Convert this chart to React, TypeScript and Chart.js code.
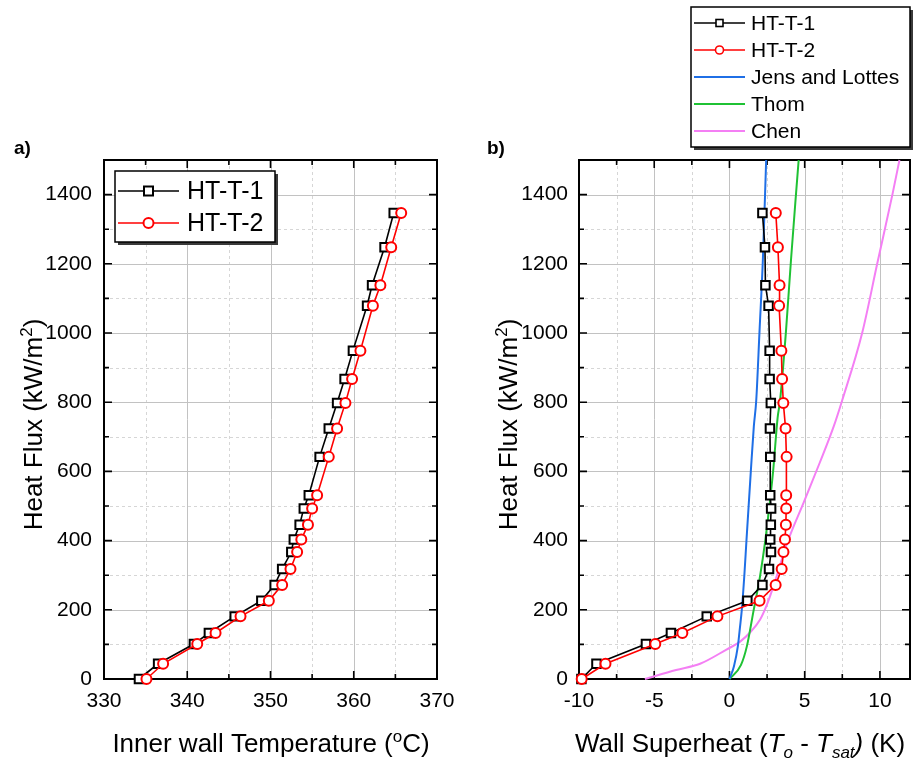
import React, { useEffect, useRef } from "react";
import { Chart, registerables } from "chart.js";

Chart.register(...registerables);

const FONT = '"Liberation Sans", Arial, Helvetica, sans-serif';

// Heat-flux levels shared by both test series (kW/m2)
const HEAT_FLUX = [0, 44, 101, 133, 181, 226, 272, 318, 367, 403, 446, 493, 531, 642, 724, 798, 867, 949, 1079, 1138, 1248, 1347];

// Panel a) inner wall temperature (°C)
const INNER_WALL_T_HT1 = [334.2, 336.5, 340.8, 342.6, 345.7, 348.9, 350.5, 351.4, 352.5, 352.8, 353.5, 354.0, 354.6, 355.9, 357.0, 358.0, 358.9, 359.9, 361.6, 362.2, 363.7, 364.8];
const INNER_WALL_T_HT2 = [335.1, 337.1, 341.2, 343.4, 346.4, 349.8, 351.4, 352.4, 353.2, 353.7, 354.5, 355.0, 355.6, 357.0, 358.0, 359.0, 359.8, 360.8, 362.3, 363.2, 364.5, 365.7];

// Panel b) wall superheat (K)
const SUPERHEAT_HT1 = [-9.84, -8.84, -5.55, -3.89, -1.51, 1.19, 2.19, 2.63, 2.76, 2.71, 2.75, 2.77, 2.71, 2.71, 2.69, 2.75, 2.67, 2.67, 2.6, 2.39, 2.36, 2.19];
const SUPERHEAT_HT2 = [-9.82, -8.24, -4.93, -3.13, -0.8, 2.0, 3.07, 3.47, 3.59, 3.69, 3.75, 3.77, 3.77, 3.8, 3.73, 3.58, 3.5, 3.45, 3.3, 3.33, 3.22, 3.08];

// Correlations (superheat K, heat flux kW/m2)
const JENS_LOTTES_DT = [0, 0.3, 0.56, 0.7, 0.82, 0.99, 1.13, 1.42, 1.62, 1.78, 2.0, 2.22, 2.44];
const JENS_LOTTES_Q = [0, 37, 95, 150, 200, 300, 400, 600, 730, 805, 1007, 1211, 1500];
const THOM_DT = [0, 0.76, 1.16, 1.6, 2.04, 2.38, 2.66, 2.91, 3.2, 3.36, 3.76, 4.09, 4.42, 4.6];
const THOM_Q = [0, 40, 95, 197, 299, 400, 502, 604, 755, 803, 1007, 1211, 1400, 1500];
const CHEN_DT = [-5.62, -3.55, -1.95, -0.2, 0.71, 1.38, 2.04, 2.49, 3.0, 3.85, 4.93, 6.0, 6.93, 7.49, 8.82, 9.82, 10.83, 11.3];
const CHEN_Q = [0, 26, 44, 85, 108, 135, 172, 215, 278, 395, 510, 625, 730, 805, 1000, 1200, 1400, 1500];

// Axis ticks
const A_X_TICKS = [330, 340, 350, 360, 370];
const A_X_MINOR = [335, 345, 355, 365];
const B_X_TICKS = [-10, -5, 0, 5, 10];
const B_X_MINOR = [-7.5, -2.5, 2.5, 7.5];
const Y_TICKS = [0, 200, 400, 600, 800, 1000, 1200, 1400];
const Y_MINOR = [100, 300, 500, 700, 900, 1100, 1300, 1500];

type Seg = { t: string; s: number; it?: boolean; b?: boolean; dy?: number };

function drawRich(ctx: CanvasRenderingContext2D, segs: Seg[], cx: number, by: number, rot: number) {
  ctx.save();
  ctx.translate(cx, by);
  ctx.rotate(rot);
  const fontOf = (g: Seg) => `${g.it ? "italic " : ""}${g.b ? "bold " : ""}${g.s}px ${FONT}`;
  const widths = segs.map((g) => {
    ctx.font = fontOf(g);
    return ctx.measureText(g.t).width;
  });
  const total = widths.reduce((a, b) => a + b, 0);
  let x = -total / 2;
  ctx.fillStyle = "#000";
  ctx.textAlign = "left";
  ctx.textBaseline = "alphabetic";
  segs.forEach((g, i) => {
    ctx.font = fontOf(g);
    ctx.fillText(g.t, x, g.dy || 0);
    x += widths[i];
  });
  ctx.restore();
}

function framePlugin(xMinor: number[], yMinor: number[]) {
  return {
    id: "frameGrid",
    beforeDatasetsDraw(chart: any) {
      const { ctx, chartArea: a, scales } = chart;
      const xs = scales.x;
      const ys = scales.y;
      const xMajor = xs.ticks.map((t: any) => t.value);
      const yMajor = ys.ticks.map((t: any) => t.value);
      ctx.save();
      const vline = (v: number) => {
        const p = Math.round(xs.getPixelForValue(v)) + 0.5;
        ctx.beginPath();
        ctx.moveTo(p, a.top);
        ctx.lineTo(p, a.bottom);
        ctx.stroke();
      };
      const hline = (v: number) => {
        const p = Math.round(ys.getPixelForValue(v)) + 0.5;
        ctx.beginPath();
        ctx.moveTo(a.left, p);
        ctx.lineTo(a.right, p);
        ctx.stroke();
      };
      ctx.lineWidth = 1;
      ctx.strokeStyle = "#d6d6d6";
      ctx.setLineDash([3, 3]);
      xMinor.forEach(vline);
      yMinor.forEach(hline);
      ctx.setLineDash([]);
      ctx.strokeStyle = "#c2c2c2";
      xMajor.forEach(vline);
      yMajor.forEach(hline);
      // frame
      ctx.strokeStyle = "#000";
      ctx.lineWidth = 2;
      ctx.strokeRect(a.left, a.top, a.width, a.height);
      // inward ticks on all four sides
      ctx.lineWidth = 1.6;
      const xt = (v: number, len: number) => {
        const p = xs.getPixelForValue(v);
        ctx.beginPath();
        ctx.moveTo(p, a.bottom);
        ctx.lineTo(p, a.bottom - len);
        ctx.moveTo(p, a.top);
        ctx.lineTo(p, a.top + len);
        ctx.stroke();
      };
      const yt = (v: number, len: number) => {
        const p = ys.getPixelForValue(v);
        ctx.beginPath();
        ctx.moveTo(a.left, p);
        ctx.lineTo(a.left + len, p);
        ctx.moveTo(a.right, p);
        ctx.lineTo(a.right - len, p);
        ctx.stroke();
      };
      xMajor.forEach((v: number) => xt(v, 8));
      xMinor.forEach((v: number) => xt(v, 5));
      yMajor.forEach((v: number) => yt(v, 8));
      yMinor.forEach((v: number) => yt(v, 5));
      ctx.restore();
    },
  };
}

type LegendCfg = {
  x: number;
  y: number;
  w: number;
  h: number;
  rows: number[];
  lineX1: number;
  lineX2: number;
  textX: number;
  fontSize: number;
  rectHalf: number;
  circleR: number;
  markerLW: number;
};

function legendPlugin(cfg: LegendCfg) {
  return {
    id: "boxLegend",
    afterDraw(chart: any) {
      const ctx: CanvasRenderingContext2D = chart.ctx;
      const { x, y, w, h } = cfg;
      ctx.save();
      ctx.fillStyle = "#3a3a3a";
      ctx.fillRect(x + 3, y + 3, w, h);
      ctx.fillStyle = "#fff";
      ctx.fillRect(x, y, w, h);
      ctx.strokeStyle = "#000";
      ctx.lineWidth = 1.5;
      ctx.strokeRect(x, y, w, h);
      chart.data.datasets.forEach((ds: any, i: number) => {
        const ry = y + cfg.rows[i];
        ctx.strokeStyle = ds.borderColor;
        ctx.lineWidth = ds.borderWidth;
        ctx.beginPath();
        ctx.moveTo(x + cfg.lineX1, ry);
        ctx.lineTo(x + cfg.lineX2, ry);
        ctx.stroke();
        const cx = x + (cfg.lineX1 + cfg.lineX2) / 2;
        if (ds.pointRadius > 0) {
          ctx.fillStyle = "#fff";
          ctx.lineWidth = cfg.markerLW;
          ctx.strokeStyle = ds.borderColor;
          if (ds.pointStyle === "rect") {
            const m = cfg.rectHalf;
            ctx.fillRect(cx - m, ry - m, 2 * m, 2 * m);
            ctx.strokeRect(cx - m, ry - m, 2 * m, 2 * m);
          } else {
            ctx.beginPath();
            ctx.arc(cx, ry, cfg.circleR, 0, Math.PI * 2);
            ctx.fill();
            ctx.stroke();
          }
        }
        ctx.fillStyle = "#000";
        ctx.font = `${cfg.fontSize}px ${FONT}`;
        ctx.textAlign = "left";
        ctx.textBaseline = "middle";
        ctx.fillText(ds.label, x + cfg.textX, ry + 1);
      });
      ctx.restore();
    },
  };
}

function titlesPlugin(xTitle: Seg[], xTitleCx: number, yTitleBx: number, panel: string, panelX: number) {
  return {
    id: "richTitles",
    afterDraw(chart: any) {
      const ctx: CanvasRenderingContext2D = chart.ctx;
      const a = chart.chartArea;
      drawRich(ctx, xTitle, xTitleCx, 752, 0);
      drawRich(
        ctx,
        [
          { t: "Heat Flux (kW/m", s: 26 },
          { t: "2", s: 17, dy: -10 },
          { t: ")", s: 26 },
        ],
        yTitleBx,
        (a.top + a.bottom) / 2 + 5,
        -Math.PI / 2
      );
      ctx.save();
      ctx.fillStyle = "#000";
      ctx.font = `bold 19px ${FONT}`;
      ctx.textAlign = "left";
      ctx.textBaseline = "alphabetic";
      ctx.fillText(panel, panelX, 154);
      ctx.restore();
    },
  };
}

const toPts = (xs: number[], ys: number[]) => xs.map((v, i) => ({ x: v, y: ys[i] }));

function scaleOpts(min: number, max: number, ticks: number[], pad: number, fit: (s: any) => void) {
  return {
    type: "linear",
    min,
    max,
    grid: { display: false, drawTicks: false },
    border: { display: false },
    ticks: {
      color: "#000",
      font: { family: FONT, size: 21 },
      padding: pad,
      maxRotation: 0,
      autoSkip: false,
      callback: (v: any) => String(v),
    },
    afterBuildTicks: (s: any) => {
      s.ticks = ticks.map((v) => ({ value: v }));
    },
    afterFit: fit,
  };
}

function expSeries(label: string, color: string, style: string, radius: number, pts: any[], order: number) {
  return {
    label,
    data: pts,
    showLine: true,
    borderColor: color,
    backgroundColor: "#fff",
    borderWidth: 1.6,
    pointStyle: style,
    pointRadius: radius,
    pointBorderWidth: 2,
    pointBackgroundColor: "#fff",
    pointBorderColor: color,
    tension: 0,
    clip: false,
    order,
  };
}

function corrSeries(label: string, color: string, pts: any[], order: number) {
  return {
    label,
    data: pts,
    showLine: true,
    borderColor: color,
    backgroundColor: color,
    borderWidth: 2,
    pointRadius: 0,
    cubicInterpolationMode: "monotone",
    clip: false,
    order,
  };
}

const fitX = (s: any) => {
  s.height = 82;
  s.paddingLeft = 0;
  s.paddingRight = 0;
};

export default function App() {
  const refA = useRef<HTMLCanvasElement>(null);
  const refB = useRef<HTMLCanvasElement>(null);

  useEffect(() => {
    const chartA = new Chart(refA.current as HTMLCanvasElement, {
      type: "scatter",
      data: {
        datasets: [
          expSeries("HT-T-1", "#000000", "rect", 6, toPts(INNER_WALL_T_HT1, HEAT_FLUX), 1),
          expSeries("HT-T-2", "#ff0000", "circle", 5, toPts(INNER_WALL_T_HT2, HEAT_FLUX), 0),
        ] as any,
      },
      options: {
        animation: false,
        responsive: false,
        devicePixelRatio: 1,
        layout: { padding: { top: 160, right: 23, left: 0, bottom: 0 } },
        plugins: { legend: { display: false }, tooltip: { enabled: false } },
        events: [],
        scales: {
          x: scaleOpts(330, 370, A_X_TICKS, 10, fitX),
          y: scaleOpts(0, 1500, Y_TICKS, 12, (s: any) => { s.width = 104; }),
        } as any,
      },
      plugins: [
        framePlugin(A_X_MINOR, Y_MINOR),
        legendPlugin({ x: 115, y: 171, w: 160, h: 71, rows: [20, 52], lineX1: 3, lineX2: 64, textX: 72, fontSize: 25, rectHalf: 4.5, circleR: 5, markerLW: 2 }),
        titlesPlugin(
          [
            { t: "Inner wall Temperature (", s: 26 },
            { t: "o", s: 17, dy: -10 },
            { t: "C)", s: 26 },
          ],
          271,
          42,
          "a)",
          14
        ),
      ] as any,
    });

    const chartB = new Chart(refB.current as HTMLCanvasElement, {
      type: "scatter",
      data: {
        datasets: [
          expSeries("HT-T-1", "#000000", "rect", 6, toPts(SUPERHEAT_HT1, HEAT_FLUX), 1),
          expSeries("HT-T-2", "#ff0000", "circle", 5, toPts(SUPERHEAT_HT2, HEAT_FLUX), 0),
          corrSeries("Jens and Lottes", "#1f6fe6", toPts(JENS_LOTTES_DT, JENS_LOTTES_Q), 2),
          corrSeries("Thom", "#1fc234", toPts(THOM_DT, THOM_Q), 3),
          corrSeries("Chen", "#f47ff4", toPts(CHEN_DT, CHEN_Q), 4),
        ] as any,
      },
      options: {
        animation: false,
        responsive: false,
        devicePixelRatio: 1,
        layout: { padding: { top: 160, right: 9, left: 0, bottom: 0 } },
        plugins: { legend: { display: false }, tooltip: { enabled: false } },
        events: [],
        scales: {
          x: scaleOpts(-10, 12, B_X_TICKS, 10, fitX),
          y: scaleOpts(0, 1500, Y_TICKS, 11, (s: any) => { s.width = 119; }),
        } as any,
      },
      plugins: [
        framePlugin(B_X_MINOR, Y_MINOR),
        legendPlugin({ x: 231, y: 7, w: 219, h: 140, rows: [16, 43, 70, 97, 124], lineX1: 3, lineX2: 54, textX: 60, fontSize: 21, rectHalf: 3.5, circleR: 4, markerLW: 1.6 }),
        titlesPlugin(
          [
            { t: "Wall Superheat (", s: 26 },
            { t: "T", s: 26, it: true },
            { t: "o", s: 17, it: true, dy: 6 },
            { t: " - ", s: 26 },
            { t: "T", s: 26, it: true },
            { t: "sat", s: 17, it: true, dy: 6 },
            { t: ")", s: 26, it: true },
            { t: " (K)", s: 26 },
          ],
          280,
          57,
          "b)",
          27
        ),
      ] as any,
    });

    return () => {
      chartA.destroy();
      chartB.destroy();
    };
  }, []);

  return (
    <div style={{ position: "absolute", left: 0, top: 0, width: 919, height: 761, background: "#fff", overflow: "hidden" }}>
      <canvas ref={refA} width={460} height={761} style={{ position: "absolute", left: 0, top: 0, width: 460, height: 761 }} />
      <canvas ref={refB} width={459} height={761} style={{ position: "absolute", left: 460, top: 0, width: 459, height: 761 }} />
    </div>
  );
}
